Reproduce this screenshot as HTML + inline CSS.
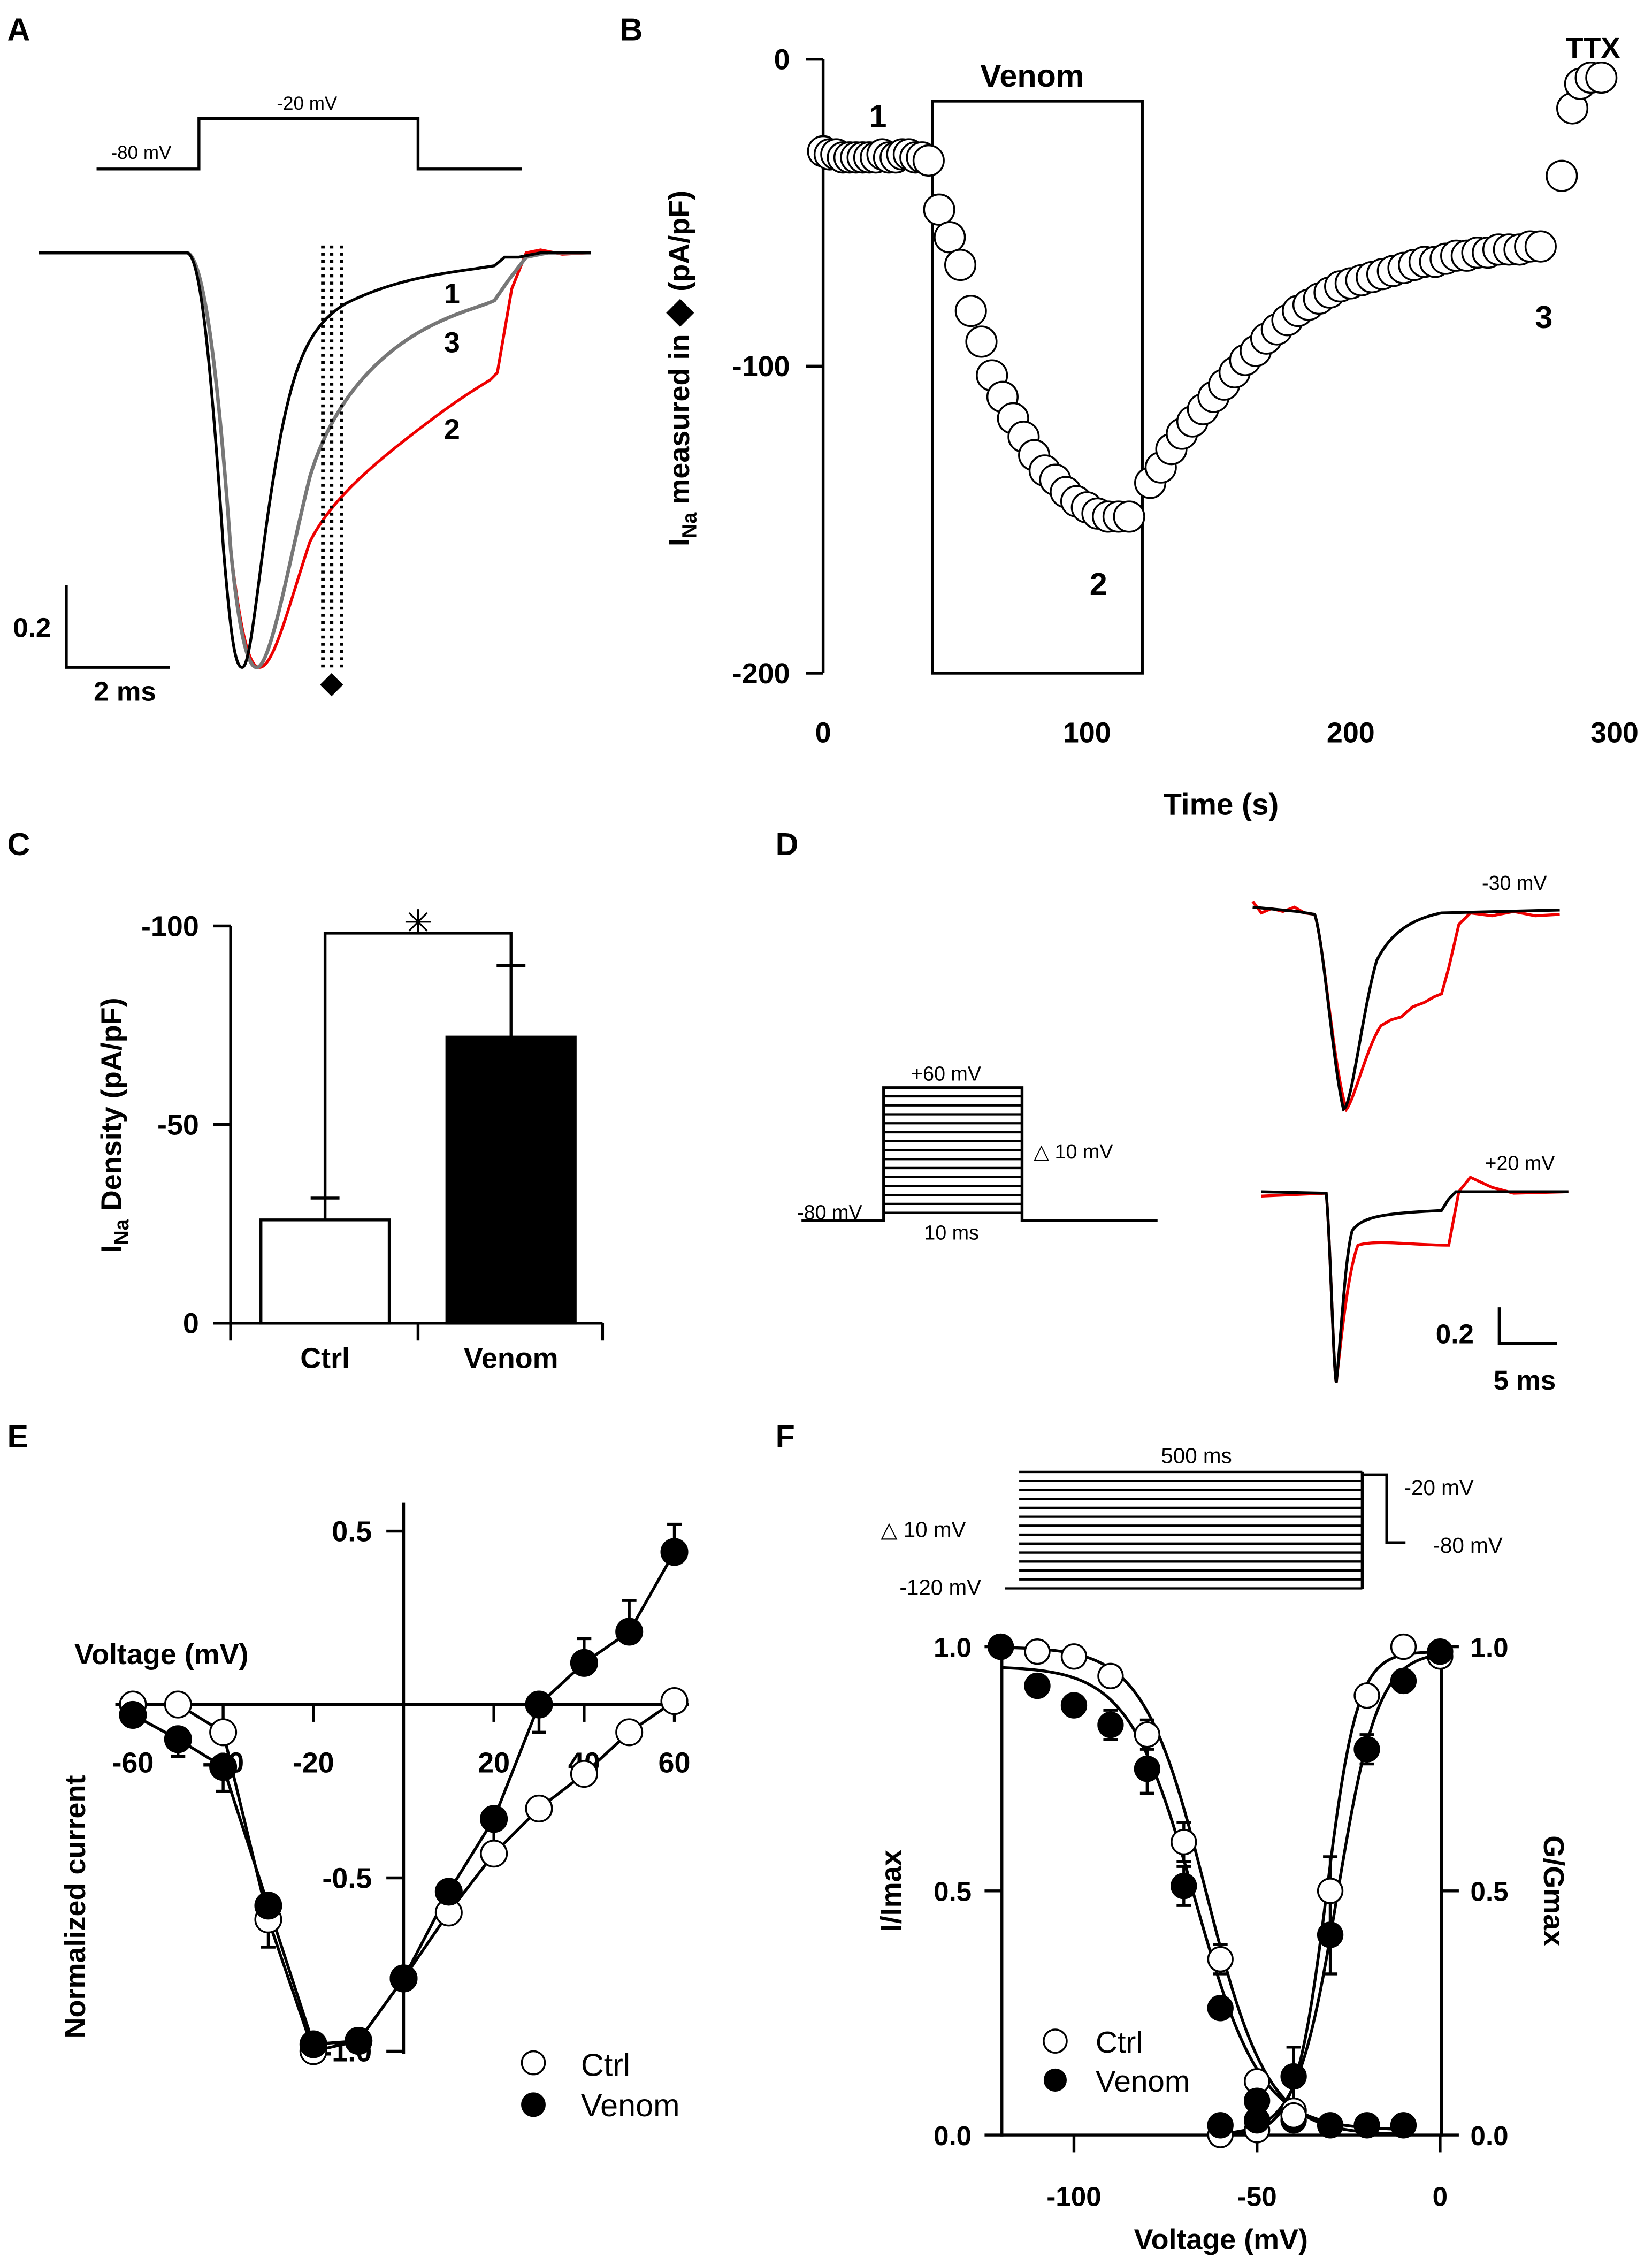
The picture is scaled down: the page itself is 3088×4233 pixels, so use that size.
<!DOCTYPE html>
<html><head><meta charset="utf-8"><style>
html,body{margin:0;padding:0;background:#fff}
svg{display:block}
text{font-family:"Liberation Sans",Arial,sans-serif;fill:#000}
.b{font-weight:bold}
</style></head><body>
<svg id="fig" xmlns="http://www.w3.org/2000/svg" width="3088" height="4233" viewBox="0 0 1146 1568" preserveAspectRatio="none">
<rect width="1146" height="1568" fill="#fff"/>
<text x="5" y="28" font-size="22" class="b">A</text>
<text x="430" y="28" font-size="22" class="b">B</text>
<text x="5" y="592" font-size="22" class="b">C</text>
<text x="538" y="592" font-size="22" class="b">D</text>
<text x="5" y="1002" font-size="22" class="b">E</text>
<text x="538" y="1002" font-size="22" class="b">F</text>

<!-- Panel A -->
<g fill="none" stroke-width="2">
<polyline points="67,117 138,117 138,82 290,82 290,117 362,117" stroke="#000"/>
<path stroke="#e00" d="M27,175 L130,175 C140,178 150,240 160,380 C167,440 173,462 180,462 C190,462 200,420 215,375 C230,345 260,320 300,290 C320,275 332,268 340,263 L345,258 L355,200 L365,175 L375,173 L390,176 L410,175"/>
<path stroke="#777" stroke-width="2.5" d="M27,175 L130,175 C140,178 150,240 160,380 C166,440 172,462 178,462 C188,462 200,390 215,330 C230,280 260,245 300,225 C320,215 335,212 343,208 L352,195 L365,178 L380,175 L410,175"/>
<path stroke="#000" d="M27,175 L130,175 C138,178 145,230 155,380 C160,440 163,462 168,462 C175,462 180,380 195,300 C205,250 215,225 240,210 C270,195 300,190 330,186 L343,184 L350,178 L360,178 L375,175 L410,175"/>
<line x1="224" y1="170" x2="224" y2="465" stroke="#000" stroke-dasharray="2,3" stroke-width="2.5"/>
<line x1="230" y1="170" x2="230" y2="465" stroke="#000" stroke-dasharray="2,3" stroke-width="2.5"/>
<line x1="237" y1="170" x2="237" y2="465" stroke="#000" stroke-dasharray="2,3" stroke-width="2.5"/>
<polyline points="46,405 46,462 118,462" stroke="#000"/>
</g>
<polygon points="230,466 238,474 230,482 222,474" fill="#000"/>
<text x="77" y="110" font-size="13">-80 mV</text>
<text x="192" y="76" font-size="13">-20 mV</text>
<text x="308" y="210" font-size="20" class="b">1</text>
<text x="308" y="244" font-size="20" class="b">3</text>
<text x="308" y="304" font-size="20" class="b">2</text>
<text x="9" y="441" font-size="19" class="b">0.2</text>
<text x="65" y="485" font-size="19" class="b">2 ms</text>

<g id="gB"></g>
<g id="gC"></g>

<!-- Panel D -->
<g fill="none" stroke-width="2">
<g id="dSteps" stroke="#000" stroke-width="1.6"></g>
<polyline points="556,845 613,845 613,753 709,753 709,845 803,845" stroke="#000"/>
<path stroke="#e00" d="M869,624 L875,632 L882,629 L890,631 L898,628 L905,632 L912,633 C918,650 925,740 934,768 C940,760 948,725 958,710 L965,706 L972,704 L980,697 L988,694 L995,690 L1000,688 L1005,670 L1012,640 L1020,632 L1035,634 L1050,631 L1065,634 L1082,633"/>
<path stroke="#000" d="M869,628 L900,631 L912,633 C918,650 925,740 932,768 C938,765 945,700 955,665 C965,645 980,636 1000,632 L1082,630"/>
<path stroke="#e00" d="M875,828 L920,826 C923,860 925,950 927,957 C930,930 935,880 942,862 C955,858 980,862 1005,862 L1012,825 L1020,815 L1035,822 L1050,826 L1088,825"/>
<path stroke="#000" d="M875,825 L920,826 C923,860 925,950 927,957 C930,930 933,870 938,852 C945,842 960,840 1000,838 L1005,830 L1010,825 L1088,825"/>
<polyline points="1040,905 1040,930 1080,930" stroke="#000"/>
</g>
<text x="632" y="748" font-size="14">+60 mV</text>
<text x="717" y="802" font-size="14">△  10 mV</text>
<text x="553" y="844" font-size="14">-80 mV</text>
<text x="641" y="858" font-size="14">10 ms</text>
<text x="1028" y="616" font-size="14">-30 mV</text>
<text x="1030" y="810" font-size="14">+20 mV</text>
<text x="996" y="930" font-size="19" class="b">0.2</text>
<text x="1036" y="962" font-size="19" class="b">5 ms</text>

<g id="gE"></g>
<g id="gF"></g>
</svg>
<script>
const NS="http://www.w3.org/2000/svg";
function mk(parent,tag,attrs,txt){const e=document.createElementNS(NS,tag);for(const k in attrs)e.setAttribute(k,attrs[k]);if(txt!==undefined)e.textContent=txt;parent.appendChild(e);return e;}

// ---------- Panel B data ----------
const bTimes=[0,2.5,5,7.5,10,12.5,15,17.5,20,22.5,25,27.5,30,32.5,35,37.5,40,44,48,52,56,60,64,68,72,76,80,84,88,92,96,100,104,108,112,116,124,128,132,136,140,144,148,152,156,160,164,168,172,176,180,184,188,192,196,200,204,208,212,216,220,224,228,232,236,240,244,248,252,256,260,264,268,272,280,284,287,291,295];
const bVals=[-30,-31,-31,-32,-32,-32,-32,-32,-32,-31,-32,-32,-31,-31,-32,-32,-33,-49,-58,-67,-82,-92,-103,-110,-117,-123,-129,-134,-137,-141,-144,-146,-148,-149,-149,-149,-138,-133,-127,-122,-118,-114,-110,-106,-102,-98,-95,-91,-88,-85,-82,-80,-78,-76,-74,-73,-72,-71,-70,-69,-68,-67,-66,-66,-65,-64,-64,-63,-63,-62,-62,-62,-61,-61,-38,-16,-8,-6,-6];
const bXTicks=[0,100,200,300];
const bYTicks=[0,-100,-200];
const bVenom=[41.5,121];
(function(){
 const g=document.getElementById('gB');
 const X=t=>571+t*1.83, Y=v=>41+(-v)*2.125;
 let e=mk(g,'line',{x1:571,y1:41,x2:571,y2:466,stroke:'#000','stroke-width':2});
 
 
 bYTicks.forEach(v=>{
  let t=mk(g,'line',{x1:559,y1:Y(v),x2:571,y2:Y(v),stroke:'#000','stroke-width':2});
  
  
  let l=mk(g,'text',{x:548,y:Y(v)+7,'font-size':20,'text-anchor':'end','class':'b'},String(v));
  
  
 });
 bXTicks.forEach(v=>{
  let l=mk(g,'text',{x:X(v),y:514,'font-size':20,'text-anchor':'middle','class':'b'},String(v));
  
  
 });
 let r=mk(g,'rect',{x:X(bVenom[0]),y:70,width:X(bVenom[1])-X(bVenom[0]),height:396,fill:'none',stroke:'#000','stroke-width':2});
 
 
 bTimes.forEach((t,i)=>{
  let c=mk(g,'circle',{cx:X(t),cy:Y(bVals[i]),r:10.5,fill:'#fff',stroke:'#000','stroke-width':1.3});
  
  
 });
 const labs=[['Venom',716,60,22],['1',609,88,22],['2',762,412,22],['3',1071,227,22],['TTX',1105,40,20]];
 labs.forEach(a=>{let l=mk(g,'text',{x:a[1],y:a[2],'font-size':a[3],'text-anchor':'middle','class':'b'},a[0]);
  
  });
 let xt=mk(g,'text',{x:847,y:564,'font-size':21,'text-anchor':'middle','class':'b'},'Time (s)');
 
 
 let yt=mk(g,'text',{transform:'translate(478,255) rotate(-90)','font-size':20,'text-anchor':'middle','class':'b'});
 
 
 yt.innerHTML='I<tspan font-size="14" dy="5">Na</tspan><tspan dy="-5"> measured in </tspan><tspan font-size="24">◆</tspan><tspan>  (pA/pF)</tspan>';
})();

// ---------- Panel C ----------
const cCats=['Ctrl','Venom'];
const cVals=[-26,-72];
const cErr=[5.5,18];
const cYTicks=[-100,-50,0];
(function(){
 const g=document.getElementById('gC');
 const Y=v=>916-(-v)*2.75;
 const bx=[181,310];
 let e=mk(g,'line',{x1:160,y1:641,x2:160,y2:917,stroke:'#000','stroke-width':2});
 
 
 e=mk(g,'line',{x1:160,y1:916,x2:418,y2:916,stroke:'#000','stroke-width':2});
 
 
 [160,290,418].forEach(x=>{let t=mk(g,'line',{x1:x,y1:916,x2:x,y2:928,stroke:'#000','stroke-width':2});
  
  });
 cYTicks.forEach(v=>{
  let t=mk(g,'line',{x1:148,y1:Y(v),x2:160,y2:Y(v),stroke:'#000','stroke-width':2});
  
  
  let l=mk(g,'text',{x:138,y:Y(v)+7,'font-size':20,'text-anchor':'end','class':'b'},String(v));
  
  
 });
 cCats.forEach((c,i)=>{
  const yt=Y(cVals[i]), ye=Y(cVals[i]-cErr[i]), cx=bx[i]+44.5;
  let er=mk(g,'line',{x1:cx,y1:yt,x2:cx,y2:ye,stroke:'#000','stroke-width':2});
  
  
  let cap=mk(g,'line',{x1:cx-10,y1:ye,x2:cx+10,y2:ye,stroke:'#000','stroke-width':2});
  
  
  let b=mk(g,'rect',{x:bx[i],y:yt,width:89,height:916-yt,fill:i?'#000':'#fff',stroke:'#000','stroke-width':2});
  
  
  let l=mk(g,'text',{x:cx,y:947,'font-size':20,'text-anchor':'middle','class':'b'},c);
  
  
 });
 const cx0=bx[0]+44.5, cx1=bx[1]+44.5;
 let br=mk(g,'polyline',{points:`${cx0},${Y(cVals[0]-cErr[0])} ${cx0},646 ${cx1},646 ${cx1},${Y(cVals[1]-cErr[1])}`,fill:'none',stroke:'#000','stroke-width':2});
 
 
 let st=mk(g,'text',{x:290,y:647,'font-size':24,'text-anchor':'middle'},'✳');
 
 
 let yt=mk(g,'text',{transform:'translate(84,779) rotate(-90)','font-size':20,'text-anchor':'middle','class':'b'});
 
 
 yt.innerHTML='I<tspan font-size="14" dy="5">Na</tspan><tspan dy="-5"> Density (pA/pF)</tspan>';
})();

(function(){const g=document.getElementById('dSteps');
 for(let i=0;i<14;i++){const y=759+i*6.2;let l=mk(g,'line',{x1:613,y1:y,x2:709,y2:y});
  
  }})();

// ---------- Panel E ----------
const eV=[-60,-50,-40,-30,-20,-10,0,10,20,30,40,50,60];
const eCtrl=[0,0,-0.08,-0.62,-1.0,-0.97,-0.79,-0.6,-0.43,-0.3,-0.2,-0.08,0.01];
const eVen=[-0.03,-0.1,-0.18,-0.58,-0.98,-0.97,-0.79,-0.54,-0.33,0,0.12,0.21,0.44];
const eVenErr=[0.03,0.05,0.07,0.07,0.02,0.02,0.03,0.06,0.07,0.08,0.07,0.09,0.08];
const eCtrlErr=[0.01,0.01,0.03,0.08,0.02,0.02,0.03,0.03,0.03,0.03,0.03,0.03,0.02];
const eXTicks=[-60,-40,-20,20,40,60];
const eYTicks=[0.5,-0.5,-1.0];
(function(){
 const g=document.getElementById('gE');
 const X=v=>280+v*3.13, Y=v=>1180-v*240;
 let e=mk(g,'line',{x1:280,y1:1040,x2:280,y2:1422,stroke:'#000','stroke-width':2});
 
 
 e=mk(g,'line',{x1:80,y1:1180,x2:478,y2:1180,stroke:'#000','stroke-width':2});
 
 
 eYTicks.forEach(v=>{
  let t=mk(g,'line',{x1:280,y1:Y(v),x2:268,y2:Y(v),stroke:'#000','stroke-width':2});
  
  
  let l=mk(g,'text',{x:258,y:Y(v)+7,'font-size':20,'text-anchor':'end','class':'b'},v===-1?'-1.0':String(v));
  
  
 });
 eXTicks.forEach(v=>{
  let t=mk(g,'line',{x1:X(v),y1:1180,x2:X(v),y2:1192,stroke:'#000','stroke-width':2});
  
  
  let l=mk(g,'text',{x:X(v),y:1227,'font-size':20,'text-anchor':'middle','class':'b'},String(v));
  
  
 });
 const series=[[eCtrl,eCtrlErr,'#fff','ctrl'],[eVen,eVenErr,'#000','venom']];
 series.forEach(s=>{
  let p=mk(g,'polyline',{points:eV.map((v,i)=>X(v)+','+Y(s[0][i])).join(' '),fill:'none',stroke:'#000','stroke-width':2});
  
  
 });
 series.forEach(s=>{
  eV.forEach((v,i)=>{
   const y=Y(s[0][i]), ye=Y(s[0][i]+(s[0][i]>0?1:-1)*s[1][i]);
   let er=mk(g,'path',{d:`M${X(v)},${y}L${X(v)},${ye}M${X(v)-5},${ye}L${X(v)+5},${ye}`,stroke:'#000','stroke-width':2});
   
   
  });
 });
 series.forEach(s=>{
  eV.forEach((v,i)=>{
   let c=mk(g,'circle',{cx:X(v),cy:Y(s[0][i]),r:9,fill:s[2],stroke:'#000','stroke-width':1.3});
   
   
  });
 });
 let c=mk(g,'circle',{cx:370,cy:1428,r:8,fill:'#fff',stroke:'#000','stroke-width':1.3});
 
 
 c=mk(g,'circle',{cx:370,cy:1457,r:8,fill:'#000',stroke:'#000'});
 
 
 let l=mk(g,'text',{x:403,y:1437,'font-size':22},'Ctrl');
 
 
 l=mk(g,'text',{x:403,y:1465,'font-size':22},'Venom');
 
 
 l=mk(g,'text',{x:112,y:1152,'font-size':20,'text-anchor':'middle','class':'b'},'Voltage (mV)');
 
 
 l=mk(g,'text',{transform:'translate(59,1320) rotate(-90)','font-size':20,'text-anchor':'middle','class':'b'},'Normalized current');
 
 
})();

// ---------- Panel F ----------
const fInactV=[-120,-110,-100,-90,-80,-70,-60,-50,-40];
const fInactCtrl=[1.0,0.99,0.98,0.94,0.82,0.6,0.36,0.11,0.05];
const fInactCtrlErr=[0,0,0,0,0.03,0.04,0.03,0.02,0.01];
const fInactVen=[1.0,0.92,0.88,0.84,0.75,0.51,0.26,0.07,0.03];
const fInactVenErr=[0,0,0,0.03,0.05,0.04,0.02,0.02,0.01];
const fActV=[-60,-50,-40,-30,-20,-10,0];
const fActCtrl=[0.0,0.01,0.04,0.5,0.9,1.0,0.98];
const fActCtrlErr=[0,0,0.02,0.07,0,0,0];
const fActVen=[0.02,0.03,0.12,0.41,0.79,0.93,0.99];
const fActVenErr=[0,0,0.06,0.08,0.03,0.02,0];
const fTailV=[-30,-20,-10];
const fTailVen=[0.02,0.02,0.02];
const fXTicks=[-100,-50,0];
const fYTicks=[0,0.5,1.0];
(function(){
 const g=document.getElementById('gF');
 const X=v=>999+v*2.54, Y=v=>1478-v*338;
 for(let i=0;i<14;i++){const y=1019+i*6.2;let l=mk(g,'line',{x1:i==13?697:707,y1:y,x2:945,y2:y,stroke:'#000','stroke-width':1.6});
  
  }
 let p=mk(g,'polyline',{points:'945,1019 945,1100',fill:'none',stroke:'#000','stroke-width':2});
 
 
 p=mk(g,'polyline',{points:'945,1021 962,1021 962,1068 975,1068',fill:'none',stroke:'#000','stroke-width':2});
 
 
 [['500 ms',830,1013,'middle'],['-20 mV',974,1035,'start'],['-80 mV',994,1075,'start'],['△  10 mV',611,1064,'start'],['-120 mV',624,1104,'start']].forEach(a=>{
  let l=mk(g,'text',{x:a[1],y:a[2],'font-size':15,'text-anchor':a[3]},a[0]);
  
  
 });
 let e=mk(g,'line',{x1:695,y1:1138,x2:695,y2:1479,stroke:'#000','stroke-width':2});
 
 
 e=mk(g,'line',{x1:1000,y1:1138,x2:1000,y2:1479,stroke:'#000','stroke-width':2});
 
 
 e=mk(g,'line',{x1:695,y1:1478,x2:1000,y2:1478,stroke:'#000','stroke-width':2});
 
 
 fYTicks.forEach(v=>{
  let t=mk(g,'line',{x1:683,y1:Y(v),x2:695,y2:Y(v),stroke:'#000','stroke-width':2});
  
  
  t=mk(g,'line',{x1:1000,y1:Y(v),x2:1012,y2:Y(v),stroke:'#000','stroke-width':2});
  
  
  let l=mk(g,'text',{x:674,y:Y(v)+7,'font-size':19,'text-anchor':'end','class':'b'},v.toFixed(1));
  
  
  l=mk(g,'text',{x:1020,y:Y(v)+7,'font-size':19,'class':'b'},v.toFixed(1));
  
  
 });
 fXTicks.forEach(v=>{
  let t=mk(g,'line',{x1:X(v),y1:1478,x2:X(v),y2:1490,stroke:'#000','stroke-width':2});
  
  
  let l=mk(g,'text',{x:X(v),y:1527,'font-size':19,'text-anchor':'middle','class':'b'},String(v));
  
  
 });
 function curve(f,a,b,name){let pts=[];for(let v=a;v<=b;v+=1)pts.push(X(v)+','+Y(f(v)));
  let c=mk(g,'polyline',{points:pts.join(' '),fill:'none',stroke:'#000','stroke-width':2});
  
  }
 curve(v=>1/(1+Math.exp((v+64)/8.5)),-120,-10,'fit-inact-ctrl');
 curve(v=>0.95/(1+Math.exp((v+67)/9))+0.01,-120,-10,'fit-inact-venom');
 curve(v=>0.99/(1+Math.exp(-(v+31)/4.2)),-60,0,'fit-act-ctrl');
 curve(v=>0.99/(1+Math.exp(-(v+28)/5.5)),-60,0,'fit-act-venom');
 function errs(vs,ys,es,name){vs.forEach((v,i)=>{if(!es[i])return;
  const x=X(v),y1=Y(ys[i]-es[i]),y2=Y(ys[i]+es[i]);
  let er=mk(g,'path',{d:`M${x},${y1}L${x},${y2}M${x-5},${y1}L${x+5},${y1}M${x-5},${y2}L${x+5},${y2}`,stroke:'#000','stroke-width':2});
  
  });}
 errs(fInactV,fInactCtrl,fInactCtrlErr,'error-bar-inact-ctrl');
 errs(fInactV,fInactVen,fInactVenErr,'error-bar-inact-venom');
 errs(fActV,fActCtrl,fActCtrlErr,'error-bar-act-ctrl');
 errs(fActV,fActVen,fActVenErr,'error-bar-act-venom');
 function pts(vs,ys,fill,name){vs.forEach((v,i)=>{
  let c=mk(g,'circle',{cx:X(v),cy:Y(ys[i]),r:8.5,fill:fill,stroke:'#000','stroke-width':1.3});
  
  });}
 pts(fInactV,fInactCtrl,'#fff','inact-point-ctrl');
 pts(fInactV,fInactVen,'#000','inact-point-venom');
 pts(fTailV,fTailVen,'#000','inact-point-venom');
 pts(fActV,fActCtrl,'#fff','act-point-ctrl');
 pts(fActV,fActVen,'#000','act-point-venom');
 let c=mk(g,'circle',{cx:732,cy:1413,r:8,fill:'#fff',stroke:'#000','stroke-width':1.3});
 
 
 c=mk(g,'circle',{cx:732,cy:1440,r:8,fill:'#000'});
 
 
 let l=mk(g,'text',{x:760,y:1421,'font-size':21},'Ctrl');
 
 
 l=mk(g,'text',{x:760,y:1448,'font-size':21},'Venom');
 
 
 l=mk(g,'text',{x:847,y:1557,'font-size':20,'text-anchor':'middle','class':'b'},'Voltage (mV)');
 
 
 l=mk(g,'text',{transform:'translate(625,1309) rotate(-90)','font-size':20,'text-anchor':'middle','class':'b'},'I/Imax');
 
 
 l=mk(g,'text',{transform:'translate(1071,1309) rotate(90)','font-size':20,'text-anchor':'middle','class':'b'},'G/Gmax');
 
 
})();
</script>
</body></html>
